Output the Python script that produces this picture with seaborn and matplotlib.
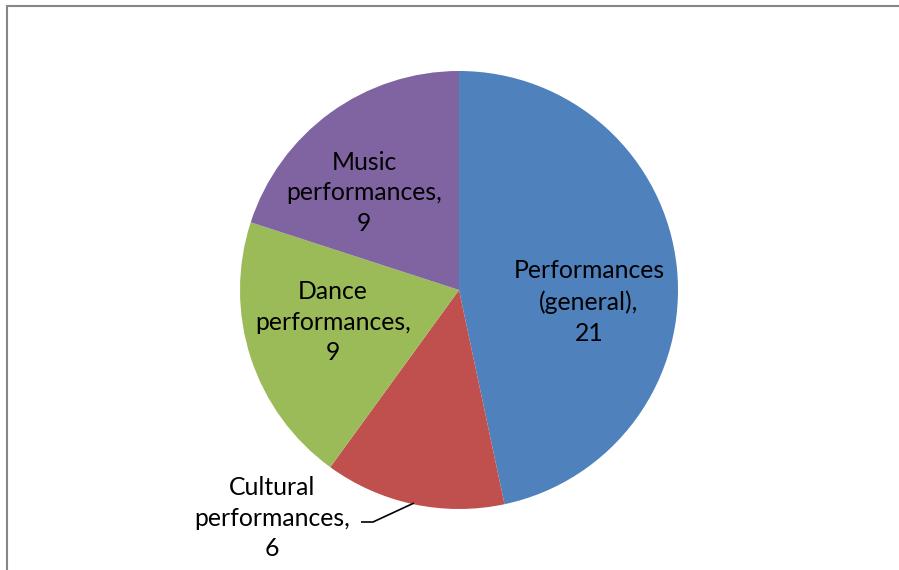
import matplotlib
matplotlib.use("Agg")
import matplotlib.pyplot as plt
import seaborn as sns
from matplotlib.patches import Rectangle

categories = ["Performances (general)", "Cultural performances", "Dance performances", "Music performances"]
values = [21, 6, 9, 9]
label_text = ["Performances\n(general),\n21", "Cultural\nperformances,\n6",
              "Dance\nperformances,\n9", "Music\nperformances,\n9"]
colors = ["#4F81BD", "#C0504D", "#9BBB59", "#8064A2"]

sns.set_theme(style="white")
plt.rcParams["font.family"] = ["Lato", "DejaVu Sans"]

W, H = 899, 570
fig = plt.figure(figsize=(W / 100, H / 100), dpi=100)
ax = fig.add_axes([0, 0, 1, 1])

cx, cy, r = 459, H - 290, 219
ax.pie(values, colors=colors, startangle=90, counterclock=False,
       center=(cx, cy), radius=r, frame=True,
       wedgeprops=dict(linewidth=0))
ax.set_xlim(0, W)
ax.set_ylim(0, H)
ax.set_aspect("equal")
ax.axis("off")

label_pos = [(589, H - 302), (272, H - 518), (333, H - 322), (364, H - 193)]
for txt, (x, y) in zip(label_text, label_pos):
    ax.text(x, y, txt, ha="center", va="center", fontsize=17.8,
            color="#000000", linespacing=1.4)

# leader line for the small slice
ax.plot([361, 373, 414], [H - 522, H - 522, H - 503], color="black", lw=1.2,
        solid_capstyle="butt")

# chart area border (left and top edges visible)
fig.patches.append(Rectangle((6.5 / W, -0.1), 1.2, (H - 5.5) / H + 0.1,
                             transform=fig.transFigure, fill=False,
                             edgecolor="#868686", linewidth=1.5))

fig.savefig("out.png", dpi=100)
